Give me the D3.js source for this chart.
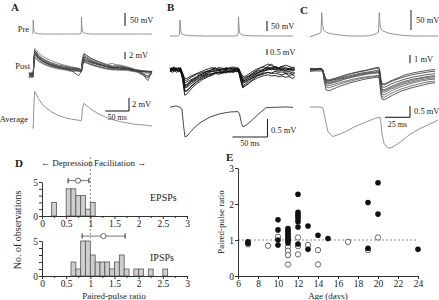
<!DOCTYPE html>
<html><head><meta charset="utf-8">
<script src="https://cdn.jsdelivr.net/npm/d3@7"></script>
<style>
body{margin:0;background:#fff}
svg{display:block}
text{font-family:"Liberation Serif","Times New Roman",serif;fill:#222}
</style>
</head><body>
<svg id="c" width="439" height="300"></svg>
<script>
// ---------------- Panel A (EPSPs) ----------------
const tPreA = [6,8,8.6,9,9.5,10.5,12,15,20,30,50,70,90,105,110,110.6,111,111.5,112.5,114,117,122,132,150,180,210,240,260];
const preA  = [-72,-68,-58.5,-16,-43,-58.5,-64,-67,-69,-70,-70,-70,-70,-70,-68,-58,-6,-35,-55,-62,-66,-68.5,-70,-70,-70,-70,-70,-70];
const tPostA = [0,5,8,9,10,12,15,20,30,45,60,75,90,105,110,111,113,116,121,131,146,161,176,191,206,221,236,251,260];
const postA1 = [0.6,-0.4,0.5,0.2,4,7.6,7.2,6.3,5.2,4.2,3.4,2.8,2.3,1.9,1.6,1.7,4.8,6.2,5.7,4.8,3.9,3.2,2.6,2.9,2.4,1.7,1.2,1.0,0.9];
const postA2 = [-0.5,0.3,-0.6,0,3,6.8,6.5,5.6,4.6,3.6,2.9,2.5,2.1,1.8,1.5,1.6,4.2,5.9,5.6,4.7,3.8,3.0,2.4,2.2,2.0,1.5,0.4,-0.8,0.5];
const postA3 = [0.3,0.7,-0.3,0.1,3.2,6.2,5.8,4.9,3.9,3.0,2.4,2.0,1.7,1.4,1.3,1.4,3.5,4.6,4.2,3.5,2.9,2.4,1.9,1.6,1.8,1.4,1.1,0.8,0.9];
const postA4 = [-0.7,0,0.6,0,2.8,5.8,5.5,4.7,3.7,2.8,2.2,1.9,1.6,1.2,1.1,1.2,3.2,4.2,3.9,3.2,2.5,2.0,1.7,2.2,1.9,1.2,0.9,1.0,0.8];
const postA5 = [0,0.5,-0.7,0.2,2.5,5.3,5.0,4.2,3.3,2.5,2.0,1.6,1.4,1.1,0.9,1.0,2.8,3.9,3.6,3.0,2.4,1.9,1.5,1.5,1.6,1.1,0.8,-0.4,0.6];
const postA6 = [0.8,-0.6,0.3,-0.1,3.5,7.0,6.6,5.4,4.3,3.3,2.6,2.2,1.9,1.7,1.5,1.6,4.0,5.2,4.9,4.1,3.3,2.6,2.0,2.5,2.1,1.6,1.3,1.1,1.0];
const postA7 = [-0.3,-0.8,0.4,0,2.2,4.8,4.6,3.9,3.1,2.3,1.8,1.5,1.0,1.2,1.0,1.0,2.6,3.6,3.4,2.9,2.3,1.8,1.6,1.4,1.3,1.0,0.6,0.5,0.7];
const postA8 = [-0.8,0.4,0,0.1,3.0,6.5,6.0,5.0,4.0,3.1,2.4,1.8,1.2,-0.2,0.9,1.0,3.0,4.4,4.2,3.7,3.1,2.6,2.2,1.9,1.7,1.5,0.9,-1.6,1.2];
const postA9 = [0.4,-0.2,0.7,0,2.7,6.0,5.7,4.8,3.8,2.9,2.3,1.9,1.6,1.4,1.2,1.3,3.6,5.0,4.7,3.9,3.1,2.5,2.1,2.0,1.8,1.3,1.0,0.9,0.8];
const postA10 = [-0.4,0.2,-0.2,0.1,3.3,6.6,6.2,5.2,4.1,3.2,2.5,2.1,1.8,1.5,1.4,1.5,4.4,5.5,5.2,4.3,3.5,2.9,3.3,2.6,2.3,1.8,0.2,-0.2,0.7];
const tAvgA = [6,8,9,10,12,15,20,30,45,60,75,90,105,110,111,113,116,121,131,146,161,176,191,206,221,236,251,260];
const avgA  = [0,0,0,2.8,5.6,5.3,4.5,3.5,2.6,2.0,1.6,1.35,1.2,1.1,1.2,3.0,3.8,3.5,2.9,2.2,1.7,1.3,1.0,0.8,0.6,0.5,0.4,0.3];

// ---------------- Panel B (IPSPs) ----------------
const tPreB = [0,12,13.5,14.3,15,16,18,22,30,50,70,90,96,97.3,97.9,98.6,99.6,101.5,105,115,135,155,176];
const preB  = [-70,-70,-62.5,10,-30,-55,-62.5,-66,-68.5,-70,-70,-70,-69,-60,26,-25,-55,-62.5,-66.5,-69,-70,-70,-70];
const tPostB = [0,3,6,9,12,15,18,21,24,27,30,34,38,42,46,50,55,60,65,70,75,80,85,90,95,98,101,104,108,112,116,120,125,130,135,140,145,150,155,160,165,170,175,178];
const postB1 = [0.1,-0.1,0.2,0,0.15,0.05,-0.8,-2.1,-2.0,-1.8,
 -1.6,-1.35,-1.15,-1.0,-0.8,-0.7,-0.55,-0.45,-0.3,-0.35,
 -0.2,-0.25,-0.1,-0.15,-0.05,-0.1,-0.9,-1.5,-1.3,-1.1,
 -0.9,-0.7,-0.5,-0.4,-0.3,-0.2,-0.25,-0.1,-0.2,-0.15,
 -0.3,-0.25,-0.35,-0.3];
const postB2 = [-0.1,0.1,0,0.2,-0.05,0.1,-0.6,-1.8,-1.75,-1.6,
 -1.4,-1.2,-1.0,-0.85,-0.7,-0.6,-0.5,-0.35,-0.25,-0.2,
 -0.3,-0.1,-0.2,0,-0.1,0,-0.7,-1.3,-1.15,-0.95,
 -0.75,-0.6,-0.4,-0.3,-0.1,0.1,0.2,0.05,-0.1,0,
 -0.2,-0.1,-0.25,-0.2];
const postB3 = [0.2,0,0.1,-0.1,0.1,0,-0.5,-1.5,-1.45,-1.3,
 -1.15,-1.0,-0.8,-0.7,-0.5,-0.4,-0.2,0.1,0.2,-0.1,
 -0.2,0,-0.15,-0.1,0.05,-0.05,-0.6,-1.1,-1.0,-0.85,
 -0.6,-0.45,-0.3,-0.1,0.1,0.3,0.5,0.2,0,0.1,
 -0.1,0.05,-0.1,0];
const postB4 = [0,0.15,-0.1,0.1,0,-0.1,-0.45,-1.3,-1.25,-1.1,
 -0.95,-0.8,-0.65,-0.5,-0.45,-0.3,-0.25,-0.1,-0.15,0,
 -0.1,0.05,-0.05,0.1,0,0.05,-0.5,-0.95,-0.85,-0.7,
 -0.55,-0.4,-0.25,-0.15,0,0.1,0,0.2,0.1,0.2,
 0.05,0.15,0,0.1];
const postB5 = [-0.15,0,0.05,0.15,-0.1,0.05,-0.35,-1.05,-1.0,-0.9,
 -0.8,-0.7,-0.55,-0.4,-0.35,-0.2,-0.1,-0.15,0,-0.05,
 0.1,0,0.15,0,0.1,0.05,-0.4,-0.8,-0.7,-0.55,
 -0.45,-0.3,-0.2,-0.1,-0.05,0,0.1,0,0.15,0.05,
 -0.05,0.1,0.05,0];
const postB6 = [0.1,0.2,0.1,0,0.2,0.1,-0.3,-0.85,-0.85,-0.75,
 -0.6,-0.5,-0.35,-0.3,-0.2,-0.15,-0.05,0,0.1,0.05,
 0,0.15,0.05,0.1,0.15,0.1,-0.3,-0.7,-0.6,-0.5,
 -0.35,-0.2,-0.1,0,0.1,0.2,0.15,0.3,0.2,0.3,
 0.4,0.3,0.2,0.25];
const postB7 = [0,-0.2,-0.1,0,-0.15,-0.1,-0.7,-1.7,-1.7,-1.55,
 -1.35,-1.15,-0.95,-0.8,-0.65,-0.5,-0.4,-0.3,-0.25,-0.15,
 -0.2,-0.1,-0.15,-0.2,-0.1,-0.15,-0.8,-1.4,-1.3,-1.15,
 -0.95,-0.8,-0.65,-0.55,-0.45,-0.4,-0.5,-0.45,-0.55,-0.5,
 -0.6,-0.55,-0.7,-0.6];
const postB8 = [0.05,0.1,0.25,0.1,0.05,0.15,-0.4,-1.2,-1.2,-1.05,
 -0.9,-0.75,-0.6,-0.45,-0.3,-0.2,-0.1,0.05,-0.05,0.1,
 0.05,0.2,0.1,0.15,0.05,0.1,-0.45,-0.9,-0.8,-0.6,
 -0.4,-0.2,0,0.2,0.35,0.5,0.35,0.25,0.15,0.3,
 0.2,0.1,0.2,0.15];
const postB9 = [-0.1,-0.05,0,-0.2,-0.05,-0.15,-0.55,-1.4,-1.35,-1.2,
 -1.0,-0.9,-0.75,-0.6,-0.55,-0.45,-0.35,-0.3,-0.2,-0.25,
 -0.15,-0.2,-0.1,-0.05,-0.15,-0.1,-0.55,-1.0,-0.95,-0.8,
 -0.7,-0.55,-0.45,-0.35,-0.25,-0.2,-0.3,-0.25,-0.35,-0.4,
 -0.3,-0.45,-0.4,-0.5];
const postB10 = [0.15,0.05,0.2,0.05,0.1,0.2,-0.25,-0.7,-0.7,-0.6,
 -0.5,-0.4,-0.3,-0.2,-0.1,0,0.1,0.2,0.1,0.2,
 0.15,0.1,0.2,0.25,0.2,0.15,-0.2,-0.55,-0.5,-0.35,
 -0.2,-0.05,0.1,0.2,0.25,0.15,0.1,0.2,0.1,0.05,
 0.15,0,0.1,0.05];
const tAvgB = [0,8.6,14.3,17.1,19.3,21.4,24.3,28.6,35.7,42.9,57.1,71.4,85.7,97.1,99.3,102.1,104.3,108.6,117.1,125.7,134.3,137.1,150,164.3,175.7];
const avgB  = [0,0.04,0,-0.05,-0.5,-0.82,-0.8,-0.7,-0.55,-0.43,-0.27,-0.18,-0.13,-0.12,-0.18,-0.45,-0.54,-0.5,-0.36,-0.2,-0.06,-0.01,0,0.01,0];

// ---------------- Panel C ----------------
const tPreC = [0,8,10,11,11.7,12.5,13.5,15,20,30,40,50,55,60,64,67,68.5,69.3,70,71,73,78,85,95,105,115,128];
const preC  = [-66.7,-60,-58,-56,-6.7,-37,-50,-54,-59,-62.5,-65,-65,-65,-64,-61,-58,-56,-6.7,-35,-48,-52.5,-57.5,-61,-64,-65,-65,-65];
const tPostC = [0,5,10,12,13,14,16,18,20,25,30,35,40,45,50,55,60,65,68,69,70,71,72,74,76,80,85,90,95,100,105,110,115,120,125];
const postC1 = [0.1,0,0.1,0.05,-0.3,-1.2,-2.4,-2.5,-2.45,-2.2,-1.95,-1.75,-1.55,-1.4,-1.25,-1.1,-1.0,-0.9,-0.85,-0.9,-1.8,-3.0,-3.5,-3.6,-3.5,-3.2,-2.9,-2.6,-2.4,-2.2,-2.05,-1.9,-1.75,-1.6,-1.55];
const postC2 = [-0.1,0.1,0,0,-0.2,-0.9,-1.8,-1.9,-1.85,-1.7,-1.5,-1.35,-1.2,-1.05,-0.95,-0.85,-0.75,-0.7,-0.65,-0.7,-1.3,-2.4,-2.9,-3.0,-2.9,-2.6,-2.3,-2.05,-1.85,-1.65,-1.5,-1.35,-1.25,-1.15,-1.1];
const postC3 = [0.2,0.1,0.2,0.1,-0.1,-0.7,-1.4,-1.5,-1.45,-1.3,-1.1,-0.95,-0.8,-0.65,-0.5,-0.4,-0.3,-0.25,-0.2,-0.25,-0.8,-1.9,-2.3,-2.4,-2.3,-2.05,-1.8,-1.55,-1.35,-1.2,-1.05,-0.95,-0.85,-0.75,-0.7];
const postC4 = [0,-0.1,0.1,0,-0.2,-0.8,-1.6,-1.7,-1.65,-1.5,-1.3,-1.1,-0.95,-0.8,-0.7,-0.55,-0.45,-0.4,-0.35,-0.4,-1.0,-2.2,-2.6,-2.7,-2.6,-2.35,-2.1,-1.85,-1.65,-1.5,-1.35,-1.2,-1.1,-1.0,-0.95];
const postC5 = [0.1,0.2,0.05,0.1,-0.05,-0.5,-1.1,-1.2,-1.15,-1.0,-0.8,-0.6,-0.45,-0.3,-0.15,-0.05,0.05,0.15,0.2,0.15,-0.4,-1.3,-1.7,-1.8,-1.7,-1.45,-1.2,-1.0,-0.8,-0.65,-0.5,-0.4,-0.3,-0.2,-0.15];
const postC6 = [-0.2,-0.1,-0.15,-0.1,-0.3,-1.0,-2.0,-2.15,-2.1,-1.9,-1.7,-1.5,-1.35,-1.2,-1.05,-0.95,-0.85,-0.8,-0.75,-0.8,-1.5,-2.7,-3.2,-3.3,-3.2,-2.9,-2.6,-2.35,-2.15,-1.95,-1.8,-1.65,-1.5,-1.4,-1.35];
const postC7 = [0.15,0.1,0.2,0.15,0,-0.6,-1.3,-1.35,-1.3,-1.1,-0.9,-0.7,-0.5,-0.35,-0.2,-0.1,0.1,0.25,0.35,0.3,-0.2,-1.2,-1.6,-1.7,-1.6,-1.35,-1.1,-0.85,-0.6,-0.45,-0.3,-0.2,-0.1,0,0.05];
const postC8 = [0,0.1,0,0.1,-0.15,-0.75,-1.5,-1.6,-1.55,-1.4,-1.25,-1.05,-0.9,-0.75,-0.6,-0.5,-0.4,-0.3,-0.25,-0.3,-0.9,-2.0,-2.45,-2.55,-2.45,-2.2,-1.95,-1.7,-1.5,-1.35,-1.2,-1.05,-0.95,-0.85,-0.8];
const postC9 = [0.05,0,0.1,0,-0.1,-0.55,-1.2,-1.3,-1.25,-1.15,-1.0,-0.85,-0.7,-0.55,-0.4,-0.3,-0.2,-0.1,-0.05,-0.1,-0.6,-1.6,-2.0,-2.1,-2.0,-1.75,-1.5,-1.3,-1.1,-0.95,-0.8,-0.7,-0.6,-0.5,-0.45];
const tAvgC = [0,10,13,15,18,23,28,35,45,55,65,70,71,72,74,78,82,90,100,110,120,128];
const avgC  = [0,0,-0.05,-0.5,-1.1,-1.3,-1.22,-1.1,-0.86,-0.68,-0.5,-0.45,-0.7,-1.2,-1.6,-1.82,-1.78,-1.55,-1.2,-0.95,-0.75,-0.57];

// ---------------- Panel D (histograms) ----------------
const epspBins   = [0.2,0.5,0.6,0.7,0.8,0.9,1.0];
const epspCounts = [2,4,4,3,3,1,2];
const epspMean = 0.745, epspLo = 0.54, epspHi = 0.97;
const ipspBins   = [0.6,0.7,0.8,0.9,1.0,1.1,1.2,1.3,1.4,1.5,1.6,1.7,1.9,2.0,2.2,2.5];
const ipspCounts = [2,1,5,5,3,2,2,2,1,2,3,1,1,1,1,1];
const ipspMean = 1.27, ipspLo = 0.83, ipspHi = 1.72;
const binWidth = 0.1;
const ratioTicks = [0,0.5,1,1.5,2,2.5,3];

// ---------------- Panel E (scatter) ----------------
const epspAgeRatio = [[7,0.88],[9,0.84],[10,1.09],[11,0.81],[11,0.7],[11,0.58],[11,0.32],[12,1.07],[12,0.83],[12,0.6],[13,0.86],[14,0.72],[14,0.32],[17,0.95],[19,0.72],[20,1.07]];
const ipspAgeRatio = [[7,0.95],[7,0.91],[10,1.56],[10,1.28],[10,1.0],[10,0.86],
  [11,1.32],[11,1.27],[11,1.22],[11,1.17],[11,1.12],[11,1.07],[11,1.02],[11,0.97],[11,0.92],
  [12,2.27],[12,1.77],[12,1.71],[12,1.65],[12,1.58],[12,1.51],[12,1.36],[12,0.89],
  [13,1.39],[13,0.74],[14,1.13],[15,1.04],[19,2.04],[19,0.77],[20,2.59],[20,1.72],[24,0.74]];
const ageTicks = [6,8,10,12,14,16,18,20,22,24];
const ratioTicksE = [0,1,2,3];

// ================= drawing =================
const svg = d3.select("#c");
const line = (t, xs, ys) => d3.line().x((d,i)=>xs(t[i])).y(d=>ys(d));
function trace(t, v, xs, ys, color, w) {
  svg.append("path").attr("d", line(t, xs, ys)(v))
    .attr("fill","none").attr("stroke",color).attr("stroke-width",w)
    .attr("stroke-linejoin","round");
}
function txt(x, y, s, size, opts={}) {
  const e = svg.append("text").attr("x",x).attr("y",y).text(s).attr("font-size",size);
  if (opts.anchor) e.attr("text-anchor",opts.anchor);
  if (opts.bold) e.attr("font-weight","bold");
  if (opts.rot) e.attr("transform",`rotate(-90,${x},${y})`);
  return e;
}
function seg(x1,y1,x2,y2,color="#222",w=1.1,dash=null){
  const l = svg.append("line").attr("x1",x1).attr("y1",y1).attr("x2",x2).attr("y2",y2)
    .attr("stroke",color).attr("stroke-width",w);
  if (dash) l.attr("stroke-dasharray",dash);
  return l;
}
function styleAxis(a){
  a.attr("font-family",null);
  a.selectAll("text").attr("font-size",9.5).attr("fill","#222")
    .style("font-family","'Liberation Serif',serif");
  a.selectAll("line,path").attr("stroke","#333");
}

// scales
const xA = d3.scaleLinear().domain([0,260]).range([29,152]);
const yApre = d3.scaleLinear().domain([-70,-20]).range([34,21]);
const yApost = d3.scaleLinear().domain([0,2]).range([75,68]);
const yAavg = d3.scaleLinear().domain([0,2]).range([128,115]);
const xB = d3.scaleLinear().domain([0,50]).range([170,205]);
const yBpre = d3.scaleLinear().domain([-70,-20]).range([36,26]);
const yBpost = d3.scaleLinear().domain([0,0.5]).range([70,64]);
const yBavg = d3.scaleLinear().domain([0,0.5]).range([107.3,89.3]);
const xC = d3.scaleLinear().domain([0,25]).range([310,335]);
const yCpre = d3.scaleLinear().domain([-65,-15]).range([36,16]);
const yCpost = d3.scaleLinear().domain([0,1]).range([70,61.7]);
const yCavg = d3.scaleLinear().domain([0,0.5]).range([107,95.65]);

// Panel letters & row labels
txt(11,11,"A",11,{bold:true});
txt(167,11,"B",11,{bold:true});
txt(300,14,"C",11,{bold:true});
txt(29,32,"Pre",8.5,{anchor:"end"});
txt(30,69,"Post",8.5,{anchor:"end"});
txt(28,122,"Average",8.5,{anchor:"end"});

// A
trace(tPreA, preA, xA, yApre, "#888", 0.9);
[postA1,postA2,postA3,postA4,postA5,postA6,postA7,postA8,postA9,postA10].forEach((p,i)=>
  trace(tPostA, p, xA, yApost, i%3===0 ? "#666" : "#333", 0.8));
trace(tAvgA, avgA, xA, yAavg, "#888", 0.9);
seg(125,13,125,13+(yApre(-70)-yApre(-20)));
txt(130,23,"50 mV",8.5);
seg(125,52,125,52+(yApost(0)-yApost(2)));
txt(129,58,"2 mV",8.5);
{ const h = yAavg(0)-yAavg(2), w = xA(50)-xA(0);
  seg(129,111-h,129,111); seg(129-w,111,129,111);
  txt(132,107,"2 mV",8.5); txt(129-w/2,120,"50 ms",8,{anchor:"middle"}); }

// B
trace(tPreB, preB, xB, yBpre, "#888", 0.9);
[postB1,postB2,postB3,postB4,postB5,postB6,postB7,postB8,postB9,postB10].forEach(p=>
  trace(tPostB, p, xB, yBpost, "#111", 0.9));
trace(tAvgB, avgB, xB, yBavg, "#333", 0.9);
seg(267,21,267,21+(yBpre(-70)-yBpre(-20)));
txt(271,29,"50 mV",8.5);
seg(267,49,267,49+(yBpost(0)-yBpost(0.5)));
txt(270,55,"0.5 mV",8.5);
{ const h = yBavg(0)-yBavg(0.5), w = xB(50)-xB(0);
  seg(267.5,137-h,267.5,137); seg(267.5-w,137,267.5,137);
  txt(271,133,"0.5 mV",8.5); txt(267.5-w/2,146,"50 ms",8,{anchor:"middle"}); }

// C
trace(tPreC, preC, xC, yCpre, "#888", 0.9);
[postC1,postC2,postC3,postC4,postC5,postC6,postC7,postC8,postC9].forEach((p,i)=>
  trace(tPostC, p, xC, yCpost, i%2 ? "#555" : "#333", 0.8));
trace(tAvgC, avgC, xC, yCavg, "#888", 0.9);
seg(411,10,411,10+(yCpre(-65)-yCpre(-15)),"#555",1.3);
txt(416,23,"50 mV",8.5);
seg(410,55,410,55+(yCpost(0)-yCpost(1)));
txt(414,62,"1 mV",8.5);
{ const h = yCavg(0)-yCavg(0.5), w = xC(25)-xC(0);
  seg(410,117.3-h,410,117.3); seg(410-w,117.3,410,117.3);
  txt(414,114,"0.5 mV",8.5); txt(410-w/2,127,"25 ms",8,{anchor:"middle"}); }

// ---------------- D ----------------
const xD = d3.scaleLinear().domain([0,3]).range([42,187]);
const yDe = d3.scaleLinear().domain([0,5]).range([216,182]);
const yDi = d3.scaleLinear().domain([0,5]).range([276,241]);
txt(15,167,"D",11,{bold:true});
txt(41,166,"\u2190 Depression",9);
txt(94,166,"Facilitation \u2192",9);
seg(xD(1),157,xD(1),238,"#888",1,"2,2");

function hist(bins, counts, ys, mean, lo, hi, my, label, ly) {
  svg.append("g").selectAll("rect").data(bins).join("rect")
    .attr("x",d=>xD(d)).attr("width",xD(binWidth)-xD(0))
    .attr("y",(d,i)=>ys(counts[i])).attr("height",(d,i)=>ys(0)-ys(counts[i]))
    .attr("fill","#cfcfcf").attr("stroke","#555").attr("stroke-width",0.8);
  const y = ys(my);
  seg(xD(lo),y,xD(hi),y,"#666",0.9);
  seg(xD(lo),y-2.5,xD(lo),y+2.5,"#333",1.1);
  seg(xD(hi),y-2.5,xD(hi),y+2.5,"#333",1.1);
  svg.append("circle").attr("cx",xD(mean)).attr("cy",y).attr("r",2.6)
    .attr("fill","#fff").attr("stroke","#555").attr("stroke-width",0.9);
  const ax = svg.append("g").attr("transform",`translate(0,${ys(0)})`)
    .call(d3.axisBottom(xD).tickValues(ratioTicks).tickFormat(d3.format("~g")).tickSize(3).tickSizeOuter(0));
  svg.append("g").attr("transform",`translate(0,${ys(0)})`)
    .call(d3.axisBottom(xD).tickValues(d3.range(0.25,3,0.5)).tickFormat("").tickSize(2).tickSizeOuter(0))
    .selectAll("line,path").attr("stroke","#333");
  const ay = svg.append("g").attr("transform",`translate(${xD(0)},0)`)
    .call(d3.axisLeft(ys).tickValues([0,1,2,3,4,5]).tickFormat(d=>(d===0||d===5)?d:"").tickSize(3).tickSizeOuter(0));
  styleAxis(ax); styleAxis(ay);
  ax.selectAll("text").attr("y",4).attr("dy","0.71em");
  ay.selectAll("text").attr("x",-4);
  txt(150,ly,label,10);
}
hist(epspBins, epspCounts, yDe, epspMean, epspLo, epspHi, 5.2, "EPSPs", 201);
hist(ipspBins, ipspCounts, yDi, ipspMean, ipspLo, ipspHi, 5.7, "IPSPs", 261);
txt(114,299,"Paired-pulse ratio",9,{anchor:"middle"});
txt(21,230,"No. of observations",10,{anchor:"middle",rot:true});

// ---------------- E ----------------
const xE = d3.scaleLinear().domain([6,24]).range([238,418]);
const yE = d3.scaleLinear().domain([0,3]).range([276,168]);
txt(226,161,"E",11,{bold:true});
seg(xE(6),yE(1),xE(24),yE(1),"#888",1,"2,2");
{
  const ax = svg.append("g").attr("transform",`translate(0,${yE(0)})`)
    .call(d3.axisBottom(xE).tickValues(ageTicks).tickFormat(d3.format("d")).tickSize(3).tickSizeOuter(0));
  const ay = svg.append("g").attr("transform",`translate(${xE(6)},0)`)
    .call(d3.axisLeft(yE).tickValues(ratioTicksE).tickFormat(d3.format("d")).tickSize(3).tickSizeOuter(0));
  styleAxis(ax); styleAxis(ay);
  ax.selectAll("text").attr("y",4).attr("dy","0.71em");
  ay.selectAll("text").attr("x",-4);
}
svg.append("g").selectAll("circle").data(epspAgeRatio).join("circle")
  .attr("cx",d=>xE(d[0])).attr("cy",d=>yE(d[1])).attr("r",2.7)
  .attr("fill","#fff").attr("stroke","#444").attr("stroke-width",0.8);
svg.append("g").selectAll("circle").data(ipspAgeRatio).join("circle")
  .attr("cx",d=>xE(d[0])).attr("cy",d=>yE(d[1])).attr("r",2.8)
  .attr("fill","#111");
txt(328,299,"Age (days)",9,{anchor:"middle"});
txt(224,222,"Paired-pulse ratio",9,{anchor:"middle",rot:true});
</script>
</body></html>
